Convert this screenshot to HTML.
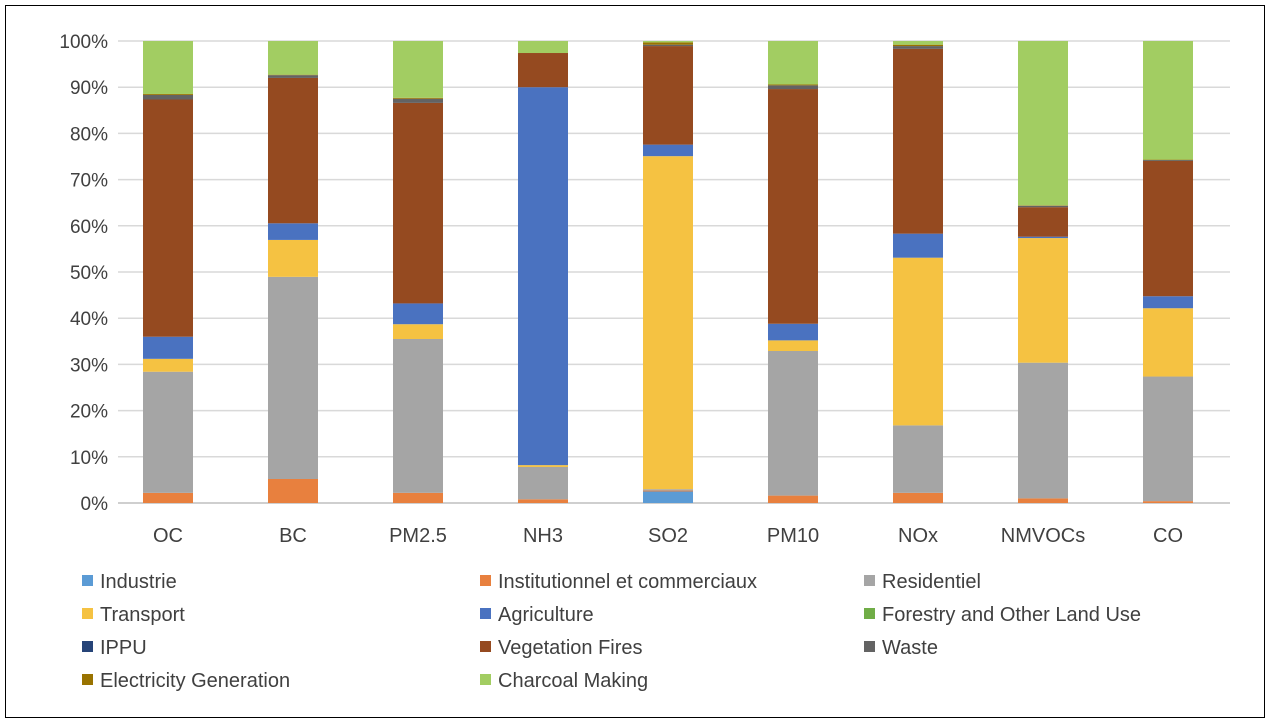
<!DOCTYPE html>
<html><head><meta charset="utf-8"><style>
body{margin:0;background:#fff;font-family:"Liberation Sans",sans-serif}
#frame{position:absolute;left:5px;top:5px;width:1258px;height:711px;border:1.5px solid #000}
</style></head><body>
<div id="frame"></div>
<svg id="chart" width="1272" height="726" style="position:absolute;left:0;top:0"></svg>
<script>
const categories=["OC","BC","PM2.5","NH3","SO2","PM10","NOx","NMVOCs","CO"];
const seriesNames=["Industrie","Institutionnel et commerciaux","Residentiel","Transport","Agriculture","Forestry and Other Land Use","IPPU","Vegetation Fires","Waste","Electricity Generation","Charcoal Making"];
const colors=["#5B9BD5","#E8803E","#A5A5A5","#F5C242","#4A72C0","#70AD47","#264478","#954A20","#636363","#997300","#A2CD62"];
const industrie=[0,0,0,0,2.5,0,0,0,0];
const institutionnel=[2.2,5.2,2.2,0.8,0.2,1.6,2.2,1.0,0.4];
const residentiel=[26.3,43.8,33.3,7.0,0.3,31.3,14.6,29.4,27.0];
const transport=[2.8,8.0,3.2,0.4,72.3,2.3,36.3,27.0,14.8];
const agriculture=[4.8,3.6,4.5,81.8,2.5,3.6,5.2,0.3,2.6];
const forestry=[0,0,0,0,0,0,0,0,0];
const ippu=[0,0,0,0,0,0,0,0,0];
const vegetation=[51.5,31.5,43.4,7.4,21.4,50.8,40.0,6.4,29.3];
const waste=[1.0,0.6,0.9,0,0.3,0.8,0.6,0.3,0.2];
const electricity=[0.2,0.1,0.2,0,0.5,0.2,0.3,0.1,0.1];
const charcoal=[11.5,7.3,12.3,2.6,0.3,9.4,0.8,35.6,25.7];
const series=[industrie,institutionnel,residentiel,transport,agriculture,forestry,ippu,vegetation,waste,electricity,charcoal];
const yTicks=[0,10,20,30,40,50,60,70,80,90,100];
const NS="http://www.w3.org/2000/svg";
const svg=document.getElementById('chart');
const y0=503,y100=41,xL=118,xR=1230;
function yS(v){return y0-(y0-y100)*v/100;}
function xS(i){return 168+125*i;}
const bw=50;
function mk(t,a){const e=document.createElementNS(NS,t);for(const k in a)e.setAttribute(k,a[k]);svg.appendChild(e);return e;}
yTicks.forEach(t=>{
 const l=mk('line',{x1:xL,x2:xR,y1:yS(t),y2:yS(t),stroke:t===0?'#bfbfbf':'#d9d9d9','stroke-width':1.5});
 
 
 const tx=mk('text',{x:108,y:yS(t)+7,'text-anchor':'end','font-size':19,fill:'#404040'});
 tx.textContent=t+'%';
 
 
});
categories.forEach((c,i)=>{
 let total=0;series.forEach(s=>total+=s[i]);
 let acc=0;
 series.forEach((s,j)=>{
  const v=s[i]/total*100;if(v<=0)return;
  const r=mk('rect',{x:xS(i)-bw/2,y:yS(acc+v),width:bw,height:yS(acc)-yS(acc+v),fill:colors[j]});
  
  
  acc+=v;
 });
 const tx=mk('text',{x:xS(i),y:542,'text-anchor':'middle','font-size':20,fill:'#404040'});
 tx.textContent=c;
 
 
});
const colX=[82,480,864];
seriesNames.forEach((n,j)=>{
 const cx=colX[j%3],cy=581+33*Math.floor(j/3);
 const r=mk('rect',{x:cx,y:cy-6,width:11,height:11,fill:colors[j]});
 
 
 const tx=mk('text',{x:cx+18,y:cy+7,'font-size':20,fill:'#404040'});
 tx.textContent=n;
 
 
});
</script>
</body></html>
